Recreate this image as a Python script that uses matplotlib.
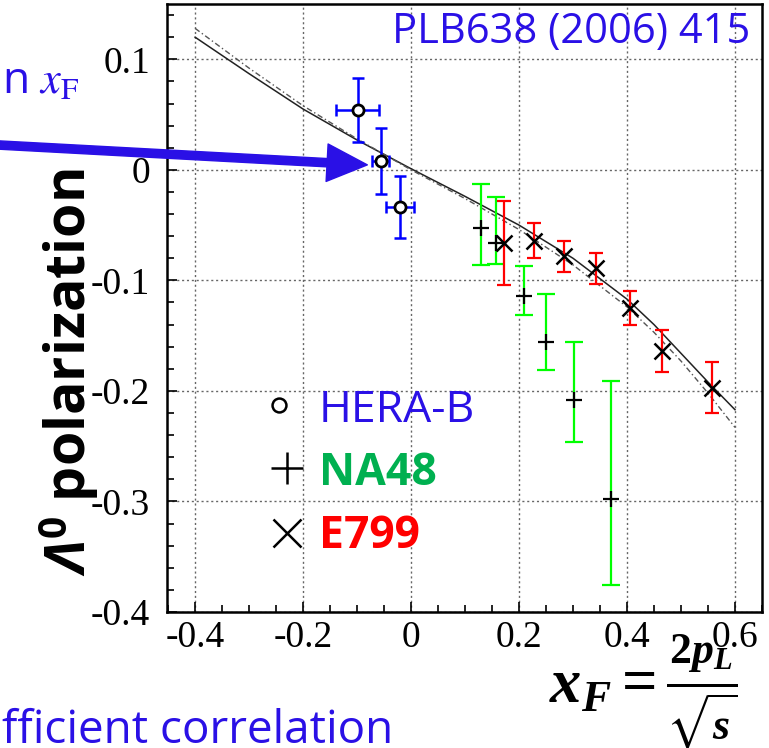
"""
    Lambda0 polarization vs x_F (HERA-B, NA48, E799) recreated with matplotlib.
"""
import matplotlib
matplotlib.use("Agg")
import matplotlib.pyplot as plt
from matplotlib.ticker import MultipleLocator

BLUE = "#2A10E6"

# HERA-B points (open circles, blue error bars)
hera_x = [-0.099, -0.056, -0.020]
hera_y = [0.054, 0.008, -0.034]
hera_xerr = [0.040, 0.016, 0.026]
hera_yerr = [0.029, 0.030, 0.028]

# NA48 points (crosses, green error bars, asymmetric)
na48_x = [0.130, 0.157, 0.209, 0.250, 0.301, 0.370]
na48_y = [-0.053, -0.066, -0.114, -0.156, -0.208, -0.298]
na48_err_lo = [0.033, 0.019, 0.017, 0.025, 0.038, 0.078]
na48_err_hi = [0.040, 0.041, 0.027, 0.044, 0.052, 0.107]

# E799 points (x markers, red error bars)
e799_x = [0.172, 0.227, 0.283, 0.342, 0.405, 0.465, 0.558]
e799_y = [-0.066, -0.064, -0.078, -0.089, -0.125, -0.164, -0.197]
e799_err = [0.038, 0.016, 0.014, 0.014, 0.015, 0.019, 0.023]

# model curves
curve_x = [-0.4, -0.3, -0.2, -0.1, 0.0, 0.1, 0.2, 0.3, 0.4, 0.45, 0.5, 0.55, 0.6]
curve_solid = [0.120, 0.087, 0.055, 0.027, 0.001, -0.024, -0.050, -0.080,
               -0.117, -0.140, -0.166, -0.192, -0.217]
curve_dashdot = [0.128, 0.092, 0.058, 0.028, 0.000, -0.026, -0.054, -0.086,
                 -0.124, -0.147, -0.173, -0.202, -0.233]

xtick_vals = [-0.4, -0.2, 0.0, 0.2, 0.4, 0.6]
xtick_labels = ["-0.4", "-0.2", "0", "0.2", "0.4", "0.6"]
ytick_vals = [-0.4, -0.3, -0.2, -0.1, 0.0, 0.1]
ytick_labels = ["-0.4", "-0.3", "-0.2", "-0.1", "0", "0.1"]

legend_names = ["HERA-B", "NA48", "E799"]
legend_colors = [BLUE, "#00B050", "#FF0000"]
legend_weights = ["normal", "bold", "bold"]
legend_markers = ["o", "+", "x"]

# 'custom' math font is used only by the bold axis labels
plt.rcParams.update({
    "mathtext.fontset": "stix",
    "mathtext.it": "Liberation Serif:italic:bold",
    "mathtext.rm": "Liberation Serif:bold",
    "mathtext.bf": "Liberation Serif:bold",
    "mathtext.sf": "Open Sans:italic:bold",
    "mathtext.tt": "Open Sans:bold",
    "mathtext.fallback": "stix",
})

fig = plt.figure(figsize=(7.69, 7.48), dpi=100)
ax = fig.add_axes([0.2172, 0.1818, 0.7737, 0.8128])

ax.plot(curve_x, curve_solid, color="#222222", lw=1.1, zorder=2)
ax.plot(curve_x, curve_dashdot, color="#555555", lw=1.0,
        linestyle=(0, (4, 2, 1, 2)), zorder=2)

ax.errorbar(hera_x, hera_y, xerr=hera_xerr, yerr=hera_yerr, fmt="none",
            ecolor="#0000FF", elinewidth=1.8, capsize=4.3, capthick=1.8, zorder=3)
ax.plot(hera_x, hera_y, "o", ms=8, mfc="white", mec="black", mew=2, zorder=4)

ax.errorbar(na48_x, na48_y, yerr=[na48_err_lo, na48_err_hi], fmt="none",
            ecolor="#00FF00", elinewidth=1.6, capsize=6.5, capthick=1.6, zorder=3)
ax.plot(na48_x, na48_y, "+", ms=12, color="black", mew=1.6, zorder=4)

ax.errorbar(e799_x, e799_y, yerr=e799_err, fmt="none",
            ecolor="#FF0000", elinewidth=1.6, capsize=5, capthick=1.6, zorder=3)
ax.plot(e799_x, e799_y, "x", ms=12, color="black", mew=1.8, zorder=4)

ax.set_xlim(-0.452, 0.650)
ax.set_ylim(-0.4, 0.15)
ax.set_xticks(xtick_vals, xtick_labels)
ax.set_yticks(ytick_vals, ytick_labels)
ax.xaxis.set_minor_locator(MultipleLocator(0.05))
ax.yaxis.set_minor_locator(MultipleLocator(0.02))
ax.tick_params(which="both", direction="in", top=False, right=False, width=1.2,
               labelsize=27, labelfontfamily="Liberation Serif")
ax.tick_params(which="major", length=7)
ax.tick_params(which="minor", length=5)
ax.tick_params(axis="y", pad=12)
ax.tick_params(axis="x", pad=6)
for spine in ax.spines.values():
    spine.set_linewidth(1.8)
ax.grid(True, which="major", color="#666666", linestyle=(0, (1.5, 2)), lw=1.0)
ax.set_axisbelow(True)

# hand made legend
marker_pos = [(0.188, 0.3405), (0.2017, 0.2368), (0.2017, 0.130)]
marker_size = [10, 23, 20]
text_y = [0.3125, 0.2089, 0.1053]
for i, name in enumerate(legend_names):
    ax.plot(*marker_pos[i], legend_markers[i], transform=ax.transAxes,
            ms=marker_size[i], mfc="white", mec="black", color="black",
            mew=1.8, clip_on=False, zorder=5)
    ax.text(0.2555, text_y[i], name, transform=ax.transAxes, color=legend_colors[i],
            fontfamily="Open Sans", fontweight=legend_weights[i], fontsize=32,
            ha="left", va="baseline")

ax.text(0.98, 0.936, "PLB638 (2006) 415", transform=ax.transAxes, color=BLUE,
        fontfamily="Open Sans", fontsize=30, ha="right", va="baseline")

# labels
fig.text(86 / 769, 1 - 372 / 748, r"$\mathsf{\Lambda}^{\mathtt{0}}$ polarization",
         rotation=90, rotation_mode="anchor", ha="center", va="baseline",
         fontfamily="Open Sans", fontweight="bold", fontsize=40,
         math_fontfamily="custom")
fig.text(643 / 769, 1 - 692 / 748, r"$x_F = \frac{2p_L}{\sqrt{s}}$",
         ha="center", va="center", fontsize=45, math_fontfamily="custom")

# fragments of the slide around the plot
fig.text(80 / 769, 1 - 93 / 748, r"n $x_\mathrm{F}$", color=BLUE,
         fontfamily="Open Sans", fontsize=32, ha="right", va="baseline",
         math_fontfamily="stix")
fig.text(393 / 769, 5 / 748, "fficient correlation", color=BLUE,
         fontfamily="Open Sans", fontsize=33, ha="right", va="baseline")

ax.annotate("", xy=(-0.081, 0.0045), xycoords="data",
            xytext=(-20, 604), textcoords="figure pixels",
            arrowprops=dict(arrowstyle="simple,head_length=2.9,head_width=2.7,tail_width=0.6",
                            mutation_scale=10, color=BLUE, shrinkA=0, shrinkB=0),
            annotation_clip=False, zorder=10)

fig.savefig("out.png", dpi=100)
